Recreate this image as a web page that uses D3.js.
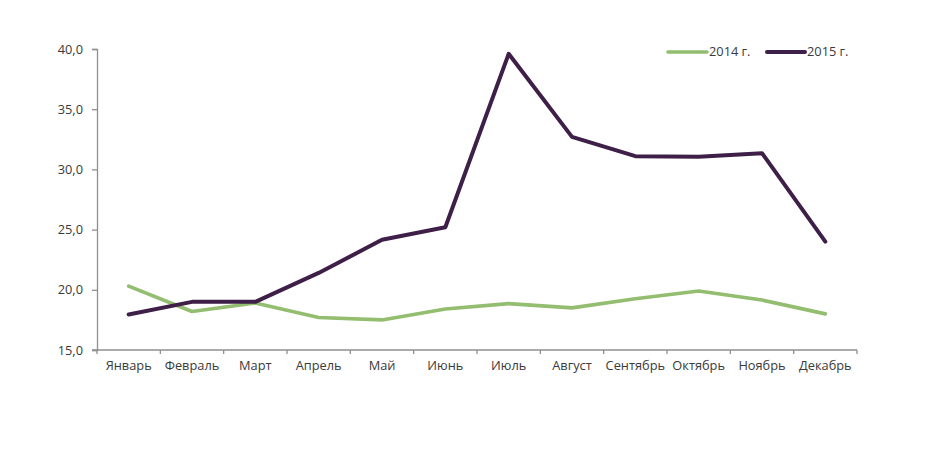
<!DOCTYPE html>
<html><head><meta charset="utf-8">
<script src="https://cdn.jsdelivr.net/npm/d3@7"></script>
<style>body{margin:0;background:#fff}svg{display:block}text{font-family:"Open Sans",sans-serif;fill:#3a3a3a}</style>
</head><body><svg id="c" width="945" height="456"></svg>
<script>
const months = ["Январь","Февраль","Март","Апрель","Май","Июнь","Июль","Август","Сентябрь","Октябрь","Ноябрь","Декабрь"];
const values2014 = [20.3,18.2,18.9,17.7,17.5,18.4,18.85,18.5,19.25,19.9,19.15,18.0];
const values2015 = [17.95,19.0,19.0,21.4,24.15,25.2,39.6,32.7,31.1,31.05,31.35,24.0];
const seriesNames = ["2014 г.","2015 г."];
const seriesColors = ["#93bd6f","#3e1f48"];
const yTicks = [15,20,25,30,35,40];

const svg = d3.select("#c");
const L=97,R=857,T=49,B=350;
const x = d3.scaleBand().domain(months).range([L,R]);
const y = d3.scaleLinear().domain([15,40]).range([B,T]);
const axisColor="#8f8f8f";
const fs="12.8px";

// y axis
const ya = svg.append("g").attr("transform",`translate(${L},0)`)
  .call(d3.axisLeft(y).tickValues(yTicks).tickSize(5).tickPadding(9).tickFormat(d=>d3.format(".1f")(d).replace(".",",")));
ya.select(".domain").attr("stroke",axisColor).attr("stroke-width",1.3);
ya.selectAll(".tick line").attr("stroke",axisColor).attr("stroke-width",1.3);
ya.selectAll("text").style("font-size",fs).style("fill","#3a3a3a").attr("font-family","Open Sans");

// x axis
const xa = svg.append("g").attr("transform",`translate(0,${B})`)
  .call(d3.axisBottom(x).tickSize(0).tickPadding(11));
xa.select(".domain").attr("stroke",axisColor).attr("stroke-width",1.3).attr("d",`M${L-5},0H${R}`);
xa.selectAll(".tick text").style("font-size",fs).style("fill","#3a3a3a").attr("font-family","Open Sans");
const bounds = months.map(m=>x(m)).concat([R]);
xa.selectAll(".bt").data(bounds).enter().append("line")
  .attr("x1",d=>d).attr("x2",d=>d).attr("y1",0).attr("y2",4)
  .attr("stroke",axisColor).attr("stroke-width",1.3);

const line = d3.line().x((d,i)=>x(months[i])+x.bandwidth()/2).y(d=>y(d));
[values2014,values2015].forEach((vals,k)=>{
  svg.append("path").datum(vals).attr("d",line).attr("fill","none")
    .attr("stroke",seriesColors[k]).attr("stroke-width",k?4:3.6)
    .attr("stroke-linejoin","round").attr("stroke-linecap","round");
});

// legend
const leg=[{x1:668,x2:707,tx:709},{x1:767,x2:805,tx:807}];
leg.forEach((p,k)=>{
  svg.append("line").attr("x1",p.x1).attr("x2",p.x2).attr("y1",52).attr("y2",52)
    .attr("stroke",seriesColors[k]).attr("stroke-width",k?4:3.6).attr("stroke-linecap","round");
  svg.append("text").attr("x",p.tx).attr("y",52).attr("dy","0.35em")
    .style("font-size",fs).text(seriesNames[k]);
});
</script></body></html>
